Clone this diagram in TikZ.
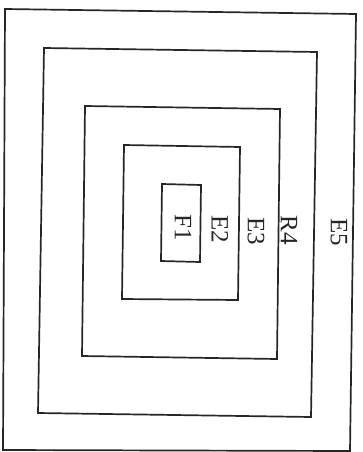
\documentclass[tikz,border=0pt]{standalone}
\usepackage{fontspec}
\setmainfont{Liberation Serif}
\begin{document}
\begin{tikzpicture}[x=1pt,y=-1pt,
  region/.style={draw=black!85,line width=1.7pt,line join=miter},
  lbl/.style={font=\fontsize{25}{25}\selectfont,rotate=-90,inner sep=0pt,text=black!85}]
\useasboundingbox[fill=white] (0,0) rectangle (363,452);
% E5 (outer)
\draw[region] (5,9) -- (356,14) -- (350,451) -- (3,450) -- cycle;
% R4
\draw[region] (44,48) -- (317,52) -- (311,417) -- (38,413) -- cycle;
% E3
\draw[region] (85,106) -- (280,109) -- (277,359) -- (82,356) -- cycle;
% E2
\draw[region] (124,145) -- (240,147) -- (238,300) -- (122,299) -- cycle;
% F1
\draw[region] (162,184) -- (201,185) -- (200,262) -- (161,261) -- cycle;
\node[lbl] (f1) at (183,228) {F1};
\node[lbl] (e2) at (220,229) {E2};
\node[lbl] (e3) at (256,231) {E3};
\node[lbl] (r4) at (289,230) {R4};
\node[lbl] (e5) at (339,232) {E5};
\end{tikzpicture}
\end{document}
